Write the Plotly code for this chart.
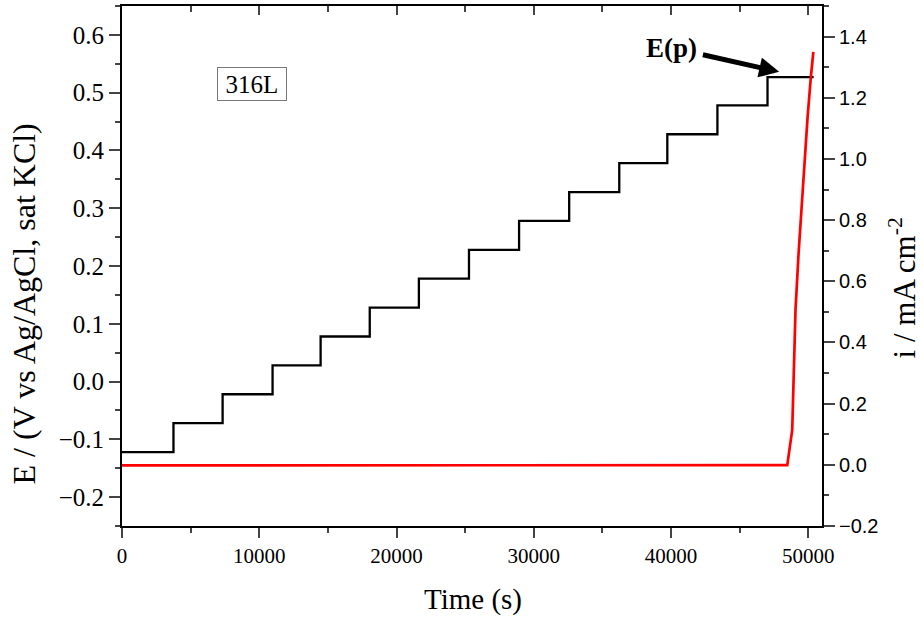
import plotly.graph_objects as go

# Potential steps (black): step times and plateau levels
step_times = [0, 3750, 7330, 10970, 14470, 18050, 21630, 25280, 28930, 32580, 36230, 39730, 43380, 47030]
step_levels = [-0.122, -0.072, -0.022, 0.028, 0.078, 0.128, 0.178, 0.228, 0.278, 0.328, 0.378, 0.428, 0.478, 0.527]
end_time = 50390

# Current density (red)
cur_t = [0, 10000, 20000, 30000, 40000, 48470, 48830, 49070, 49290, 49580, 49750, 49950, 50190, 50370]
cur_i = [-0.002, -0.002, -0.002, -0.002, -0.002, -0.001, 0.114, 0.506, 0.689, 0.898, 1.019, 1.137, 1.268, 1.35]

# build step line
ex, ey = [], []
for k, (t, v) in enumerate(zip(step_times, step_levels)):
    t_next = step_times[k + 1] if k + 1 < len(step_times) else end_time
    ex += [t, t_next]
    ey += [v, v]

serif = "Liberation Serif"
sans = "Liberation Sans"

fig = go.Figure()
fig.add_trace(go.Scatter(x=ex, y=ey, mode="lines", line=dict(color="black", width=2.3),
                         showlegend=False, hoverinfo="skip"))
fig.add_trace(go.Scatter(x=cur_t, y=cur_i, mode="lines", line=dict(color="#ff0000", width=2.7),
                         yaxis="y2", showlegend=False, hoverinfo="skip"))
fig.add_trace(go.Scatter(x=[None], y=[None], xaxis="x2", showlegend=False, hoverinfo="skip"))

L, R, T, B = 121.7, 101.3, 5.7, 92
W, H = 923, 618
pw = W - L - R
ph = H - T - B

def px(xp):
    return (xp - L) / pw

def py(yp):
    return (H - B - yp) / ph

fig.update_layout(
    width=W, height=H,
    margin=dict(l=L, r=R, t=T, b=B, pad=0),
    paper_bgcolor="white", plot_bgcolor="white",
    xaxis=dict(range=[0, 51000], dtick=10000, tick0=0, ticks="outside", ticklen=10, tickwidth=2,
               showline=True, linewidth=2, linecolor="black", showgrid=False, zeroline=False,
               tickformat="d", tickfont=dict(family=serif, size=21, color="black"),
               minor=dict(dtick=5000, ticks="outside", ticklen=5, tickwidth=2, showgrid=False)),
    xaxis2=dict(range=[0, 51000], overlaying="x", side="top", dtick=10000, tick0=0, ticks="inside",
                ticklen=9, tickwidth=2, showline=True, linewidth=2, linecolor="black",
                showticklabels=False, showgrid=False, zeroline=False,
                minor=dict(dtick=5000, ticks="inside", ticklen=6, tickwidth=2, showgrid=False)),
    yaxis=dict(range=[-0.25, 0.65], dtick=0.1, tick0=0, ticks="outside", ticklen=11, tickwidth=2,
               showline=True, linewidth=2, linecolor="black", showgrid=False, zeroline=False,
               tickformat=".1f", tickfont=dict(family=serif, size=25, color="black"),
               minor=dict(dtick=0.05, ticks="outside", ticklen=5, tickwidth=2, showgrid=False)),
    yaxis2=dict(range=[-0.2, 1.5], overlaying="y", side="right", dtick=0.2, tick0=0, ticks="outside",
                ticklen=11, tickwidth=2, showline=True, linewidth=2, linecolor="black",
                showgrid=False, zeroline=False, tickformat=".1f",
                tickfont=dict(family=sans, size=20, color="black"),
                minor=dict(dtick=0.1, ticks="outside", ticklen=5, tickwidth=2, showgrid=False)),
    annotations=[
        dict(text="E / (V vs Ag/AgCl, sat KCl)", xref="paper", yref="paper", x=px(24), y=py(304),
             textangle=-90, showarrow=False, xanchor="center", yanchor="middle",
             font=dict(family=serif, size=32, color="black")),
        dict(text="i / mA cm<sup>-2</sup>", xref="paper", yref="paper", x=px(902), y=py(288),
             textangle=-90, showarrow=False, xanchor="center", yanchor="middle",
             font=dict(family=serif, size=31, color="black")),
        dict(text="Time (s)", xref="paper", yref="paper", x=px(472.7), y=py(600),
             showarrow=False, xanchor="center", yanchor="middle",
             font=dict(family=serif, size=29, color="black")),
        dict(text="316L", xref="x", yref="y", x=9500, y=0.515, showarrow=False,
             xanchor="center", yanchor="middle", bordercolor="#777777", borderwidth=1, borderpad=2,
             width=64, height=28, bgcolor="white", font=dict(family=serif, size=25, color="black")),
        dict(text="<b>E(p)</b>", xref="x", yref="y", x=47880, y=0.536, axref="x", ayref="y",
             ax=40000, ay=0.578, showarrow=True, arrowhead=2, arrowsize=0.8, arrowwidth=5,
             startstandoff=5, arrowcolor="black", font=dict(family=serif, size=27, color="black")),
    ],
)

fig.write_html("out.html", config={"displayModeBar": False},
               post_script="document.body.style.margin='0';document.body.style.padding='0';")
